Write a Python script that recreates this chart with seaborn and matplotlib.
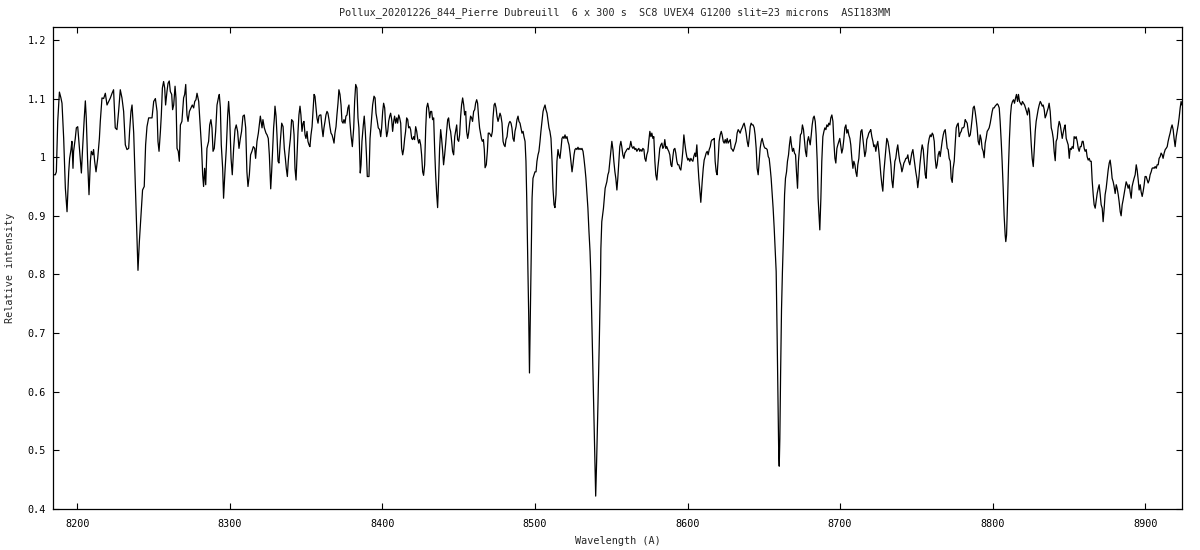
import matplotlib
matplotlib.use("Agg")
import matplotlib.pyplot as plt
import seaborn as sns
import pandas as pd

# (wavelength in Angstrom, relative intensity), by region
band_8185 = [(8184.1,0.970),(8185.6,0.970),(8186.3,0.975),(8187.2,1.061),(8188.3,1.111),(8189.3,1.101),(8190.0,1.092),
    (8191.1,1.032),(8192.2,0.947),(8193.3,0.907),(8194.4,0.975),(8195.0,0.998),(8195.9,1.013),(8196.5,1.027),(8197.2,0.981),
    (8197.6,1.010),(8198.7,1.032),(8199.4,1.050),(8200.3,1.052),(8200.9,1.032),(8202.0,0.993),(8202.7,0.973),(8203.5,1.015),
    (8204.6,1.067),(8205.3,1.096),(8205.9,1.067),(8206.8,0.993),(8207.7,0.936),(8208.6,0.993),(8209.2,1.010),(8210.1,1.004),
    (8210.7,1.013),(8211.4,0.993),(8212.3,0.975),(8213.4,0.998),(8214.5,1.032),(8215.1,1.061),(8216.2,1.101),(8217.3,1.100),
    (8218.4,1.109),(8219.5,1.089),(8220.6,1.095),(8221.7,1.101),(8222.8,1.109),(8223.8,1.115),(8224.9,1.050),(8226.0,1.047),
    (8227.1,1.078),(8228.2,1.115),(8229.3,1.101),(8230.4,1.078),(8231.5,1.021),(8232.6,1.013),(8233.7,1.015),(8234.3,1.044),
    (8235.2,1.078),(8235.9,1.089),(8237.0,1.041),(8238.0,0.958),(8239.1,0.867),(8239.8,0.807),(8240.7,0.856),(8241.8,0.901),
    (8242.8,0.944),(8243.9,0.950),(8244.8,1.021),(8245.7,1.052),(8246.8,1.067)]

band_8250 = [(8249.0,1.067),(8250.1,1.095),(8251.2,1.100),(8252.3,1.078),(8252.9,1.027),(8253.6,1.010),(8254.5,1.044),
    (8255.1,1.072),(8255.8,1.118),(8256.6,1.129),(8257.3,1.118),(8257.9,1.089),(8258.8,1.112),(8259.5,1.126),(8260.3,1.130),
    (8261.0,1.112),(8261.9,1.107),(8262.5,1.081),(8263.2,1.089),(8264.1,1.121),(8264.7,1.101),(8265.4,1.015),(8266.2,1.010),
    (8266.9,0.993),(8267.6,1.055),(8268.6,1.061),(8269.7,1.101),(8270.4,1.107),(8271.1,1.124),(8271.9,1.072),(8272.6,1.061),
    (8273.5,1.078),(8274.5,1.084),(8275.4,1.089),(8276.3,1.084),(8277.0,1.095),(8277.8,1.098),(8278.5,1.109),(8279.6,1.095),
    (8280.7,1.050),(8281.5,1.015),(8282.2,0.970),(8282.8,0.950),(8283.5,0.981),(8284.2,0.953),(8285.0,1.015),(8286.1,1.027),
    (8286.8,1.055),(8287.6,1.064),(8288.3,1.050),(8289.0,1.010),(8289.8,1.015),(8290.7,1.044),(8291.6,1.089),(8292.5,1.101),
    (8293.1,1.107),(8293.8,1.084),(8294.4,1.021),(8295.3,0.981),(8295.9,0.930),(8296.8,0.975),(8297.7,1.015),(8298.6,1.072),
    (8299.2,1.095),(8299.9,1.067),(8300.8,0.998),(8301.6,0.970),(8302.5,1.015),(8303.4,1.047),(8304.2,1.055),(8305.1,1.044),
    (8306.0,1.015),(8306.9,1.032),(8307.7,1.044),(8308.6,1.070),(8309.5,1.072),(8310.4,1.050),(8311.2,0.975),(8311.9,0.950),
    (8312.8,0.970),(8313.6,1.004),(8314.5,1.010),(8315.4,1.018),(8316.3,1.015),(8316.9,0.998),(8317.8,1.027),(8318.7,1.041)]

band_8320 = [(8320.0,1.070),(8321.1,1.050),(8321.7,1.064),(8322.6,1.050),(8323.7,1.041),(8324.4,1.038),(8325.2,1.032),
    (8325.9,1.004),(8326.8,0.946),(8327.4,0.975),(8328.1,1.015),(8328.7,1.050),(8329.2,1.067),(8329.6,1.087),(8330.3,1.070),
    (8330.9,1.038),(8331.6,0.993),(8332.2,0.990),(8333.1,1.027),(8334.0,1.058),(8334.9,1.052),(8335.7,1.015),(8336.4,0.998),
    (8337.0,0.981),(8337.7,0.967),(8338.3,0.993),(8339.0,1.015),(8339.7,1.032),(8340.5,1.064),(8341.4,1.061),(8342.1,1.038),
    (8342.7,0.981),(8343.4,0.961),(8344.0,0.998),(8344.7,1.044),(8345.3,1.072),(8346.0,1.087),(8346.6,1.072),(8347.3,1.044),
    (8348.0,1.058),(8348.6,1.061),(8349.3,1.038),(8349.9,1.032),(8350.6,1.044),(8351.2,1.027),(8351.9,1.021),(8352.5,1.018),
    (8353.2,1.038),(8353.9,1.052),(8354.5,1.078),(8355.2,1.107),(8355.8,1.104),(8356.5,1.084),(8357.1,1.067),(8357.8,1.058),
    (8358.4,1.070),(8359.1,1.072),(8359.7,1.072),(8360.4,1.050),(8361.1,1.035),(8361.7,1.050),(8362.4,1.061),(8363.0,1.072),
    (8363.7,1.078),(8364.3,1.075),(8365.0,1.064),(8365.6,1.052),(8366.3,1.041),(8367.0,1.038),(8367.6,1.032),(8368.3,1.024),
    (8368.9,1.041),(8369.6,1.052),(8370.2,1.072),(8370.9,1.092),(8371.5,1.115),(8372.2,1.107),(8372.9,1.089),(8373.5,1.061),
    (8374.2,1.058),(8374.8,1.064),(8375.5,1.058),(8376.1,1.070),(8376.8,1.072),(8377.4,1.084),(8378.1,1.089),(8378.7,1.061),
    (8379.4,1.038),(8380.3,1.018),(8381.2,1.050),(8381.8,1.095),(8382.5,1.124),(8383.3,1.118),(8384.0,1.067),(8384.6,1.050),
    (8385.5,0.973),(8386.0,0.987),(8386.6,1.027),(8387.5,1.055),(8388.1,1.070),(8388.8,1.044),(8389.5,1.007),(8390.1,0.967),
    (8391.2,0.967),(8391.9,1.032)]

band_8392 = [(8392.8,1.061),(8393.6,1.089),(8394.5,1.104),(8395.2,1.101),(8395.8,1.075),(8396.5,1.064),(8397.3,1.050),
    (8398.2,1.047),(8398.9,1.035),(8399.5,1.050),(8400.2,1.078),(8400.8,1.092),(8401.5,1.084),(8402.1,1.055),(8402.8,1.035),
    (8403.5,1.044),(8404.1,1.061),(8404.8,1.070),(8405.4,1.075),(8406.1,1.064),(8406.7,1.044),(8407.4,1.061),(8408.0,1.070),
    (8408.7,1.058),(8409.4,1.067),(8410.0,1.058),(8410.7,1.072),(8411.3,1.067),(8412.0,1.058),(8412.6,1.015),(8413.3,1.004),
    (8413.9,1.013),(8414.6,1.032),(8415.2,1.044),(8415.9,1.067),(8416.6,1.064),(8417.2,1.050),(8417.9,1.052),(8418.5,1.047),
    (8419.2,1.032),(8419.8,1.030),(8420.5,1.035),(8421.1,1.030),(8421.8,1.052),(8422.5,1.044),(8423.1,1.032),(8423.8,1.024),
    (8424.4,1.030),(8425.1,1.021),(8425.7,1.004),(8426.4,0.975),(8427.0,0.969),(8427.7,0.987),(8428.4,1.050),(8429.0,1.084),
    (8429.7,1.092),(8430.3,1.084),(8431.0,1.067),(8431.6,1.078),(8432.3,1.078),(8432.9,1.064),(8433.6,1.067),(8434.3,1.010),
    (8434.9,0.970),(8435.6,0.936),(8436.2,0.914),(8436.9,0.964),(8437.5,1.015),(8438.2,1.047),(8438.8,1.032),(8439.5,1.010),
    (8440.1,0.987),(8440.8,1.004),(8441.5,1.024),(8442.1,1.044),(8442.8,1.064),(8443.4,1.067),(8444.1,1.050),(8444.7,1.044),
    (8445.4,1.027),(8446.0,1.010),(8446.7,1.004),(8447.4,1.035),(8448.0,1.044),(8448.7,1.055),(8449.3,1.030),(8450.0,1.027),
    (8450.6,1.038),(8451.3,1.070),(8451.9,1.089),(8452.6,1.101),(8453.3,1.089),(8453.9,1.072),(8454.6,1.078),(8455.2,1.044),
    (8455.9,1.032),(8456.5,1.041),(8457.2,1.058),(8457.8,1.070),(8458.5,1.067),(8459.1,1.061),(8459.8,1.078),(8460.5,1.081),
    (8461.1,1.092),(8461.8,1.098),(8462.4,1.092),(8463.1,1.067),(8463.7,1.050)]

band_8465 = [(8464.9,1.032),(8465.5,1.027),(8466.2,1.030),(8466.8,1.013),(8467.3,0.982),(8468.1,0.987),(8468.8,1.010),
    (8469.4,1.041),(8470.1,1.041),(8470.8,1.038),(8471.4,1.035),(8472.1,1.044),(8472.5,1.067),(8473.2,1.089),(8473.8,1.092),
    (8474.5,1.084),(8475.1,1.070),(8475.8,1.061),(8476.4,1.067),(8477.1,1.075),(8477.7,1.070),(8478.4,1.058),(8479.1,1.027),
    (8479.7,1.021),(8480.4,1.018),(8481.0,1.030),(8481.7,1.035),(8482.3,1.050),(8483.0,1.058),(8483.6,1.061),(8484.3,1.058),
    (8484.9,1.050),(8485.6,1.032),(8486.3,1.027),(8486.9,1.044),(8487.6,1.052),(8488.2,1.064),(8488.9,1.070),(8489.5,1.061),
    (8490.2,1.058),(8490.8,1.050),(8491.5,1.041),(8492.2,1.044),(8492.8,1.035),(8493.5,1.027),(8494.1,0.993),(8494.6,0.930),
    (8495.0,0.862),(8495.4,0.805),(8495.9,0.730),(8496.4,0.632),(8496.9,0.720),(8497.4,0.805),(8498.1,0.930),(8498.7,0.964),
    (8499.4,0.970),(8500.0,0.975),(8500.7,0.975),(8501.3,0.993),(8502.0,1.004),(8502.6,1.010),(8503.3,1.027),(8503.9,1.044),
    (8504.6,1.061),(8505.3,1.078),(8505.9,1.084),(8506.6,1.089),(8507.2,1.081),(8507.9,1.075),(8508.5,1.064),(8509.2,1.050),
    (8509.8,1.044),(8510.5,1.032),(8511.2,0.993),(8511.8,0.947),(8512.5,0.919),(8513.1,0.914),(8513.8,0.936),(8514.4,0.993),
    (8515.1,1.013),(8515.7,1.004),(8516.4,0.998),(8517.1,1.015),(8517.7,1.032),(8518.4,1.035),(8519.0,1.032),(8519.7,1.038),
    (8520.3,1.032),(8521.0,1.035),(8521.6,1.027),(8522.3,1.021),(8523.0,1.007),(8523.6,0.993),(8524.3,0.975),(8524.9,0.987),
    (8525.6,1.004),(8526.2,1.013),(8526.9,1.015),(8527.5,1.013),(8528.2,1.017),(8528.8,1.013),(8529.5,1.015),(8530.2,1.013),
    (8530.8,1.015),(8531.5,1.010),(8532.1,0.998),(8532.8,0.981),(8533.4,0.964),(8534.1,0.936),(8534.7,0.913),(8535.4,0.873),
    (8536.1,0.839),(8536.6,0.800),(8537.5,0.690),(8538.5,0.575),(8539.3,0.480),(8539.8,0.422),(8540.4,0.480),(8541.3,0.580),
    (8542.2,0.690),(8543.0,0.800),(8543.2,0.844),(8543.8,0.890),(8544.9,0.913),(8546.0,0.947),(8547.1,0.958),(8547.8,0.970),
    (8548.4,0.975),(8549.1,0.993),(8549.7,1.010),(8550.4,1.027),(8551.1,1.013),(8551.7,0.993),(8552.4,0.975),(8553.0,0.964),
    (8553.7,0.944),(8554.3,0.964),(8555.0,0.993),(8555.6,1.018),(8556.3,1.027),(8556.9,1.018),(8557.6,1.004),(8558.3,0.998),
    (8558.9,1.007),(8559.6,1.010),(8560.2,1.013),(8560.9,1.015),(8561.5,1.013),(8562.2,1.018),(8562.8,1.027),(8563.5,1.018),
    (8564.2,1.015),(8564.8,1.018),(8565.5,1.013),(8566.1,1.015),(8566.8,1.010),(8567.4,1.013),(8568.1,1.015),(8568.7,1.010),
    (8569.4,1.013),(8570.1,1.010),(8570.7,1.015),(8571.4,1.013),(8572.0,0.998),(8572.7,0.993),(8573.3,1.004),(8574.0,1.010),
    (8574.6,1.027),(8575.3,1.044),(8576.0,1.035),(8576.6,1.041),(8577.3,1.032),(8577.9,1.035),(8578.6,0.993),(8579.2,0.970),
    (8579.9,0.961),(8580.5,0.981),(8581.2,0.998),(8581.8,1.015),(8582.5,1.021),(8583.2,1.024),(8583.8,1.015),(8584.5,1.018),
    (8585.1,1.030),(8585.8,1.015),(8586.4,1.018),(8587.1,1.013),(8587.7,1.010),(8588.4,1.004),(8589.1,0.987),(8589.7,0.984),
    (8590.4,1.001),(8591.0,1.013),(8591.7,1.015),(8592.3,1.007),(8593.0,0.993),(8593.6,0.987),(8594.3,0.987),(8594.9,0.981),
    (8595.6,0.978),(8596.3,0.993),(8596.9,1.010),(8597.6,1.038),(8598.2,1.024),(8598.9,1.010),(8599.5,1.001),(8600.2,0.995),
    (8600.8,0.998),(8601.5,0.993),(8602.2,0.998),(8602.8,0.995),(8603.5,0.993),(8604.1,1.001),(8604.8,1.007),(8605.4,1.001),
    (8606.1,1.021),(8606.7,0.993),(8607.4,0.964),(8608.1,0.941),(8608.7,0.923)]

band_8610 = [(8609.6,0.958),(8610.3,0.981),(8610.9,0.995),(8611.6,1.001),(8612.2,1.007),(8612.9,1.010),(8613.5,1.004),
    (8614.2,1.013),(8614.9,1.018),(8615.5,1.027),(8616.2,1.030),(8616.8,1.030),(8617.5,1.032),(8618.1,0.993),(8618.8,0.975),
    (8619.4,0.970),(8620.1,0.998),(8620.7,1.027),(8621.4,1.038),(8622.1,1.044),(8622.7,1.038),(8623.4,1.027),(8624.0,1.024),
    (8624.7,1.030),(8625.3,1.024),(8626.0,1.032),(8626.6,1.024),(8627.3,1.027),(8628.0,1.030),(8628.6,1.015),(8629.3,1.013),
    (8629.9,1.010),(8630.6,1.015),(8631.2,1.021),(8631.9,1.027),(8632.5,1.041),(8633.2,1.047),(8633.9,1.044),(8634.5,1.041),
    (8635.2,1.047),(8635.8,1.050),(8636.5,1.055),(8637.1,1.058),(8637.8,1.050),(8638.4,1.041),(8639.1,1.027),(8639.8,1.018),
    (8640.4,1.032),(8641.1,1.052),(8641.7,1.058),(8642.4,1.055),(8643.0,1.055),(8643.7,1.050),(8644.3,1.038),(8645.0,1.015),
    (8645.6,0.981),(8646.3,0.970),(8647.0,0.993),(8647.6,1.015),(8648.3,1.027),(8648.9,1.032),(8649.6,1.024),(8650.2,1.018),
    (8650.9,1.015),(8651.5,1.015),(8652.2,1.013),(8652.9,1.001),(8653.5,0.998),(8654.2,0.981),(8654.8,0.964),(8655.5,0.936),
    (8656.1,0.913),(8656.8,0.879),(8657.4,0.844),(8658.1,0.805),(8658.7,0.700),(8659.3,0.580),(8659.8,0.490),(8660.1,0.473),
    (8660.5,0.520),(8661.0,0.630),(8661.6,0.740),(8662.2,0.805),(8662.9,0.867),(8663.6,0.936),(8664.2,0.964),(8664.9,0.975),
    (8665.5,0.993),(8666.2,1.004),(8666.8,1.021),(8667.5,1.035),(8668.1,1.021),(8668.8,1.010),(8669.5,1.015),(8670.1,1.007),
    (8670.8,1.004),(8671.4,0.975),(8672.1,0.947),(8672.7,0.993),(8673.4,1.015),(8674.0,1.038),(8674.7,1.041),(8675.3,1.055),
    (8676.0,1.047),(8676.7,1.027),(8677.3,1.010),(8678.0,1.001),(8678.6,1.027),(8679.3,1.035),(8679.9,1.027)]

band_8680 = [(8680.4,1.021),(8681.1,1.038),(8681.7,1.055),(8682.4,1.067),(8683.0,1.070),(8683.7,1.061),(8684.3,1.038),
    (8685.0,0.993),(8685.6,0.930),(8686.3,0.896),(8686.7,0.876),(8687.4,0.930),(8688.0,0.993),(8688.7,1.035),(8689.4,1.044),
    (8690.0,1.050),(8690.7,1.047),(8691.3,1.055),(8692.0,1.052),(8692.6,1.058),(8693.3,1.055),(8693.9,1.067),(8694.6,1.072),
    (8695.3,1.061),(8695.9,1.027),(8696.6,0.998),(8697.2,0.990),(8697.9,1.015),(8698.5,1.021),(8699.2,1.027),(8699.8,1.032),
    (8700.5,1.018),(8701.1,1.007),(8701.8,1.015),(8702.5,1.032),(8703.1,1.050),(8703.8,1.055),(8704.4,1.041),(8705.1,1.047),
    (8705.7,1.038),(8706.4,1.032),(8707.0,1.021),(8707.7,0.998),(8708.4,0.981),(8709.0,0.993),(8709.7,0.987),(8710.3,0.975),
    (8711.0,0.967),(8711.6,0.987),(8712.3,0.998),(8712.9,1.021),(8713.6,1.044),(8714.3,1.047),(8714.9,1.032),(8715.6,1.015),
    (8716.2,1.001),(8716.9,1.010),(8717.5,1.030),(8718.2,1.035),(8718.8,1.041),(8719.5,1.044),(8720.1,1.047),(8720.8,1.035),
    (8721.5,1.027),(8722.1,1.018),(8722.8,1.021),(8723.4,1.010),(8724.1,1.021),(8724.7,1.027),(8725.4,1.010),(8726.0,0.993),
    (8726.7,0.970),(8727.4,0.953),(8728.0,0.942),(8728.7,0.975),(8729.3,0.993),(8730.0,1.015),(8730.6,1.032),(8731.3,1.027),
    (8731.9,1.018),(8732.6,1.004),(8733.3,0.987),(8733.9,0.961),(8734.6,0.948),(8735.2,0.970),(8735.9,0.993),(8736.5,0.998),
    (8737.2,1.013),(8737.8,1.021),(8738.5,1.004),(8739.1,0.993),(8739.8,0.987),(8740.5,0.975),(8741.1,0.981),(8741.8,0.990),
    (8742.4,0.993),(8743.1,0.998),(8743.7,0.998),(8744.4,1.004),(8745.0,0.993),(8745.7,0.987),(8746.4,0.998),(8747.0,1.007),
    (8747.7,1.013),(8748.3,1.001),(8749.0,0.987),(8749.6,0.975),(8750.3,0.964),(8750.9,0.948),(8751.6,0.964),(8752.3,0.987)]

band_8753 = [(8753.2,1.010),(8753.8,1.021),(8754.5,1.013),(8755.1,0.993),(8755.8,0.970),(8756.4,0.964),(8757.1,0.998),
    (8757.7,1.021),(8758.4,1.032),(8759.1,1.038),(8759.7,1.035),(8760.4,1.041),(8761.0,1.038),(8761.7,1.027),(8762.3,0.998),
    (8763.0,0.981),(8763.6,0.987),(8764.3,1.004),(8765.0,1.010),(8765.6,1.001),(8766.3,1.015),(8766.9,1.027),(8767.6,1.038),
    (8768.2,1.044),(8768.9,1.047),(8769.5,1.032),(8770.2,1.015),(8770.8,1.013),(8771.5,0.998),(8772.2,0.993),(8772.8,0.964),
    (8773.5,0.957),(8774.1,0.981),(8774.8,0.993),(8775.4,1.021),(8776.1,1.050),(8776.7,1.055),(8777.4,1.058),(8778.1,1.035),
    (8778.7,1.041),(8779.4,1.044),(8780.0,1.050),(8780.7,1.050),(8781.3,1.052),(8782.0,1.064),(8782.6,1.061),(8783.3,1.058),
    (8784.0,1.044),(8784.6,1.035),(8785.3,1.038),(8785.9,1.050),(8786.6,1.067),(8787.2,1.084),(8787.9,1.087),(8788.5,1.078),
    (8789.2,1.064),(8789.8,1.050),(8790.5,1.027),(8791.2,1.021),(8791.8,1.038),(8792.5,1.030),(8793.1,1.015),(8793.8,1.010),
    (8794.4,0.999),(8795.1,1.024),(8795.7,1.032),(8796.4,1.044),(8797.1,1.047),(8797.7,1.050),(8798.4,1.058),(8799.0,1.067),
    (8799.7,1.078),(8800.3,1.084),(8801.0,1.084),(8801.6,1.087),(8802.3,1.089),(8803.0,1.091),(8803.6,1.089),(8804.3,1.084),
    (8804.9,1.061),(8805.6,1.027),(8806.2,0.993),(8806.9,0.947),(8807.5,0.901),(8808.2,0.867),(8808.6,0.856),(8809.1,0.867),
    (8809.7,0.919),(8810.4,0.987),(8811.0,1.032),(8811.7,1.072),(8812.3,1.089),(8813.0,1.095),(8813.7,1.098),(8814.3,1.092),
    (8815.0,1.101),(8815.6,1.107),(8816.3,1.095),(8816.9,1.107),(8817.6,1.095),(8818.2,1.092),(8818.9,1.089),(8819.5,1.095),
    (8820.2,1.092),(8820.9,1.089),(8821.5,1.084),(8822.2,1.078),(8822.8,1.072),(8823.5,1.084),(8824.1,1.078)]

band_8825 = [(8825.3,1.021),(8825.9,0.998),(8826.6,0.984),(8827.2,1.010),(8827.9,1.044),(8828.5,1.061),(8829.2,1.072),
    (8829.8,1.081),(8830.5,1.089),(8831.2,1.095),(8831.8,1.092),(8832.5,1.087),(8833.1,1.089),(8833.8,1.081),(8834.4,1.067),
    (8835.1,1.072),(8835.7,1.078),(8836.4,1.084),(8837.0,1.092),(8837.7,1.078),(8838.4,1.050),(8839.0,1.044),(8839.7,1.032),
    (8840.3,1.010),(8841.0,0.994),(8841.6,1.027),(8842.3,1.032),(8842.9,1.050),(8843.6,1.061),(8844.3,1.055),(8844.9,1.044),
    (8845.6,1.032),(8846.2,1.041),(8846.9,1.050),(8847.5,1.055),(8848.2,1.032),(8848.8,1.027),(8849.5,1.021),(8850.2,0.998),
    (8850.8,1.015),(8851.5,1.013),(8852.1,1.018),(8852.8,1.015),(8853.4,1.035),(8854.1,1.032),(8854.7,1.035),(8855.4,1.027),
    (8856.1,1.015),(8856.7,1.010),(8857.4,1.018),(8858.0,1.018),(8858.7,1.027),(8859.3,1.027),(8860.0,1.015),(8860.6,1.010),
    (8861.3,1.013),(8861.9,1.001),(8862.6,0.995),(8863.3,0.998),(8863.9,0.993),(8864.6,0.993),(8865.2,0.961),(8865.9,0.936),
    (8866.5,0.919),(8867.2,0.913),(8867.8,0.924),(8868.5,0.938),(8869.2,0.947),(8869.8,0.953),(8870.5,0.936),(8871.1,0.919),
    (8871.8,0.913),(8872.4,0.890),(8873.1,0.913),(8873.7,0.936),(8874.4,0.947),(8875.1,0.964),(8875.7,0.978),(8876.4,0.990),
    (8877.0,0.995),(8877.7,0.981),(8878.3,0.964),(8879.0,0.958),(8879.6,0.950),(8880.3,0.938),(8881.0,0.953),(8881.6,0.947),
    (8882.3,0.936),(8882.9,0.924),(8883.6,0.907),(8884.2,0.900),(8884.9,0.919),(8885.5,0.927),(8886.2,0.938),(8886.8,0.947),
    (8887.5,0.958),(8888.2,0.953),(8888.8,0.947),(8889.5,0.953),(8890.1,0.941),(8890.8,0.930),(8891.4,0.950),(8892.1,0.958),
    (8892.7,0.964),(8893.4,0.970),(8894.1,0.987),(8894.7,0.978),(8895.4,0.961),(8896.0,0.944),(8896.7,0.953),(8897.3,0.941),
    (8898.0,0.933),(8898.6,0.941),(8899.3,0.953),(8899.9,0.967),(8900.6,0.967),(8901.3,0.961),(8901.9,0.956),(8902.6,0.961),
    (8903.2,0.970),(8903.9,0.975),(8904.5,0.981),(8905.2,0.982),(8905.8,0.981),(8906.5,0.984),(8907.2,0.981),(8907.8,0.987),
    (8908.5,0.987),(8909.1,0.998),(8909.8,1.001),(8910.4,1.007),(8911.1,1.004),(8911.7,0.998),(8912.4,1.007),(8913.1,1.013),
    (8913.7,1.015),(8914.4,1.018),(8915.0,1.027),(8915.7,1.035),(8916.3,1.041),(8917.0,1.050),(8917.6,1.055),(8918.3,1.047),
    (8918.9,1.032),(8919.6,1.018),(8920.3,1.035),(8920.9,1.044),(8921.6,1.055),(8922.2,1.067),(8922.9,1.084),(8923.5,1.095),
    (8924.0,1.089)]

x_ticks = [8200, 8300, 8400, 8500, 8600, 8700, 8800, 8900]
y_ticks = [0.4, 0.5, 0.6, 0.7, 0.8, 0.9, 1.0, 1.1, 1.2]
y_tick_labels = ["0.4", "0.5", "0.6", "0.7", "0.8", "0.9", "1", "1.1", "1.2"]
title = "Pollux_20201226_844_Pierre Dubreuill  6 x 300 s  SC8 UVEX4 G1200 slit=23 microns  ASI183MM"
x_label = "Wavelength (A)"
y_label = "Relative intensity"

bands = [band_8185, band_8250, band_8320, band_8392, band_8465, band_8610, band_8680, band_8753, band_8825]
rows = [p for b in bands for p in b]
df = pd.DataFrame(rows, columns=["wavelength", "intensity"])

sns.set_style("ticks")
plt.rcParams["font.family"] = ["DejaVu Sans Mono"]
fs = 7.3

fig = plt.figure(figsize=(12, 5.5), dpi=100)
ax = fig.add_axes([53 / 1200, 1 - 509 / 550, (1181.7 - 53) / 1200, (509 - 27) / 550])
sns.lineplot(data=df, x="wavelength", y="intensity", ax=ax, color="black",
             linewidth=0.9, estimator=None, sort=False)

ax.set_xlim(8184.1, 8923.9)
ax.set_ylim(0.4, 1.222)
ax.set_xticks(x_ticks)
ax.set_xticklabels([str(t) for t in x_ticks])
ax.set_yticks(y_ticks)
ax.set_yticklabels(y_tick_labels)
ax.tick_params(direction="in", length=4, width=0.8, top=True, right=True,
               labelsize=fs, colors="black")
ax.tick_params(axis="x", pad=7)
ax.tick_params(axis="y", pad=5)
for s in ax.spines.values():
    s.set_linewidth(0.9)
    s.set_color("black")
ax.set_xlabel("")
ax.set_ylabel("")

fig.text(615 / 1200, 1 - 13 / 550, title, ha="center", va="center", fontsize=fs)
fig.text(617.5 / 1200, 1 - 541 / 550, x_label, ha="center", va="center", fontsize=fs)
fig.text(10 / 1200, 1 - 268 / 550, y_label, ha="center", va="center", rotation=90, fontsize=fs)

fig.savefig("out.png", dpi=100)
